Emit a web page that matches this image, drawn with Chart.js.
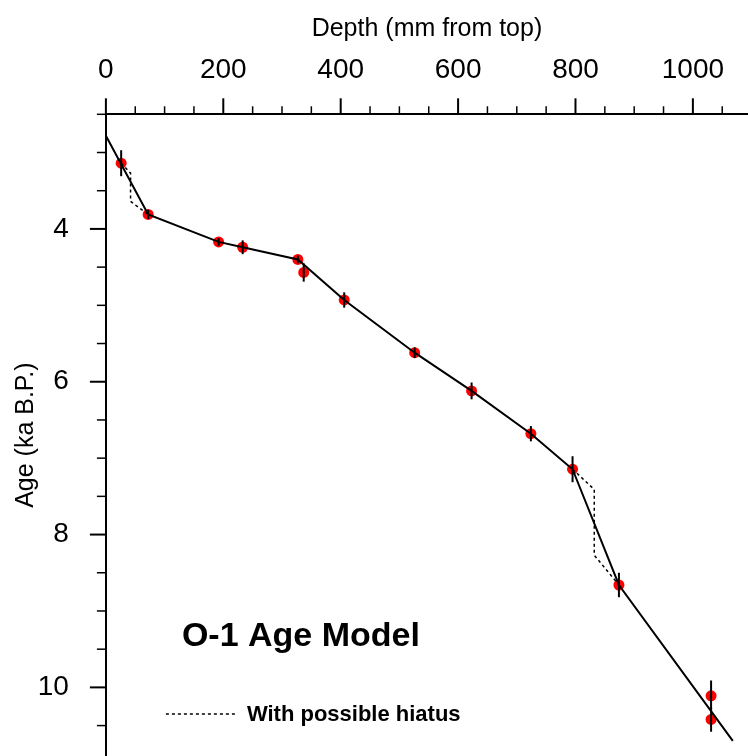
<!DOCTYPE html>
<html>
<head>
<meta charset="utf-8">
<script src="https://cdn.jsdelivr.net/npm/chart.js@4.4.1/dist/chart.umd.min.js"></script>
<style>
  html, body { margin: 0; padding: 0; background: #fff; }
  #wrap { width: 748px; height: 756px; position: relative; }
</style>
</head>
<body>
<div id="wrap"><canvas id="chart"></canvas></div>
<script>
// dated samples: depth (mm from top), age (ka B.P.), error (ka)
const sampleDepth = [26, 72, 192, 233, 327, 337, 406, 526, 623, 724, 795, 874, 1031, 1031];
const sampleAge   = [3.14, 3.81, 4.17, 4.24, 4.40, 4.57, 4.93, 5.62, 6.12, 6.68, 7.145, 8.66, 10.11, 10.42];
const sampleErr   = [0.17, 0.06, 0.05, 0.09, 0.05, 0.12, 0.10, 0.07, 0.11, 0.10, 0.17, 0.16, 0.20, 0.16];

// age model (solid line)
const modelDepth = [0, 72, 192, 233, 327, 406, 526, 623, 724, 795, 874, 1068];
const modelAge   = [2.78, 3.81, 4.17, 4.24, 4.40, 4.93, 5.62, 6.12, 6.68, 7.145, 8.66, 10.70];

// model with possible hiatus (dashed), null splits the two pieces
const hiatusDepth = [26, 42, 42, 72, null, 795, 832, 832, 874];
const hiatusAge   = [3.14, 3.27, 3.64, 3.81, null, 7.145, 7.41, 8.27, 8.66];

// axes
const depthTicks = [0, 200, 400, 600, 800, 1000];
const ageTicks = [4, 6, 8, 10];
const depthMinor = 50;
const ageMinor = 0.5;

const FONT = '"Liberation Sans", Arial, Helvetica, sans-serif';

function pieces(xs, ys) {
  const out = [[]];
  xs.forEach((x, i) => {
    if (x === null) out.push([]);
    else out[out.length - 1].push({x, y: ys[i]});
  });
  return out;
}

// keep the plot area where we put it (no label overhang padding)
function noPad(s) {
  s.paddingTop = s.paddingBottom = s.paddingLeft = s.paddingRight = 0;
}

const extras = {
  id: 'extras',
  afterDatasetsDraw(chart) {
    const {ctx, scales: {x, y}} = chart;
    ctx.save();
    ctx.strokeStyle = '#000';
    ctx.lineWidth = 2;
    sampleDepth.forEach((d, i) => {
      const px = x.getPixelForValue(d);
      ctx.beginPath();
      ctx.moveTo(px, y.getPixelForValue(sampleAge[i] - sampleErr[i]));
      ctx.lineTo(px, y.getPixelForValue(sampleAge[i] + sampleErr[i]));
      ctx.stroke();
    });
    ctx.restore();
  },
  afterDraw(chart) {
    const {ctx, chartArea, scales: {x, y}} = chart;
    ctx.save();
    ctx.strokeStyle = '#000';
    // depth ticks, pointing up
    for (let i = 0; i * depthMinor <= x.max; i++) {
      const v = i * depthMinor;
      const major = depthTicks.includes(v);
      const px = x.getPixelForValue(v);
      ctx.lineWidth = major ? 2 : 1.5;
      ctx.beginPath();
      ctx.moveTo(px, chartArea.top);
      ctx.lineTo(px, chartArea.top - (major ? 16 : 8));
      ctx.stroke();
    }
    // age ticks, pointing left
    for (let i = 0; y.min + i * ageMinor <= y.max; i++) {
      const v = y.min + i * ageMinor;
      const major = ageTicks.includes(v);
      const py = y.getPixelForValue(v);
      ctx.lineWidth = major ? 2 : 1.5;
      ctx.beginPath();
      ctx.moveTo(chartArea.left, py);
      ctx.lineTo(chartArea.left - (major ? 16 : 9), py);
      ctx.stroke();
    }

    // caption
    ctx.fillStyle = '#000';
    ctx.textAlign = 'center';
    ctx.textBaseline = 'alphabetic';
    ctx.font = 'bold 34px ' + FONT;
    ctx.fillText('O-1 Age Model', chartArea.left + 195, 646);

    // legend
    ctx.lineWidth = 1.5;
    ctx.setLineDash([3, 3]);
    ctx.beginPath();
    ctx.moveTo(chartArea.left + 60, 714);
    ctx.lineTo(chartArea.left + 130, 714);
    ctx.stroke();
    ctx.setLineDash([]);
    ctx.textAlign = 'left';
    ctx.textBaseline = 'middle';
    ctx.font = 'bold 22px ' + FONT;
    ctx.fillText('With possible hiatus', chartArea.left + 141, 715);
    ctx.restore();
  }
};

const datasets = [
  {
    label: 'Age model',
    data: modelDepth.map((d, i) => ({x: d, y: modelAge[i]})),
    showLine: true, borderColor: '#000', borderWidth: 2,
    pointRadius: 0, order: 0
  },
  ...pieces(hiatusDepth, hiatusAge).map(seg => ({
    label: 'With possible hiatus',
    data: seg,
    showLine: true, borderColor: '#000', borderWidth: 1.5, borderDash: [3, 3],
    pointRadius: 0, order: 1
  })),
  {
    label: 'Samples',
    data: sampleDepth.map((d, i) => ({x: d, y: sampleAge[i]})),
    showLine: false, pointRadius: 5.5, pointBackgroundColor: '#ff0000',
    pointBorderWidth: 0, order: 2
  }
];

new Chart(document.getElementById('chart'), {
  type: 'scatter',
  data: {datasets},
  options: {
    responsive: true,
    maintainAspectRatio: false,
    animation: false,
    layout: {padding: 0, autoPadding: false},
    plugins: {legend: {display: false}, tooltip: {enabled: false}},
    scales: {
      x: {
        type: 'linear', position: 'top', min: 0, max: 1093.9,
        afterFit(s) { s.height = 114.3; noPad(s); },
        afterBuildTicks(s) { s.ticks = depthTicks.map(v => ({value: v})); },
        grid: {display: false, drawTicks: false},
        border: {display: true, color: '#000', width: 2},
        ticks: {color: '#000', font: {family: FONT, size: 28}, padding: 27, maxRotation: 0,
                autoSkip: false, callback: v => String(v)},
        title: {display: true, text: 'Depth (mm from top)', color: '#000',
                font: {family: FONT, size: 25}, padding: {top: 14, bottom: 0}}
      },
      y: {
        type: 'linear', position: 'left', reverse: true, min: 2.5, max: 10.898,
        afterFit(s) { s.width = 105.9; noPad(s); },
        afterBuildTicks(s) { s.ticks = ageTicks.map(v => ({value: v})); },
        grid: {display: false, drawTicks: false},
        border: {display: true, color: '#000', width: 2},
        ticks: {color: '#000', font: {family: FONT, size: 28}, padding: 37, autoSkip: false,
                callback: v => String(v)},
        title: {display: true, text: 'Age (ka B.P.)', color: '#000',
                font: {family: FONT, size: 25}, padding: {top: 11, bottom: 0}}
      }
    }
  },
  plugins: [extras]
});
</script>
</body>
</html>
